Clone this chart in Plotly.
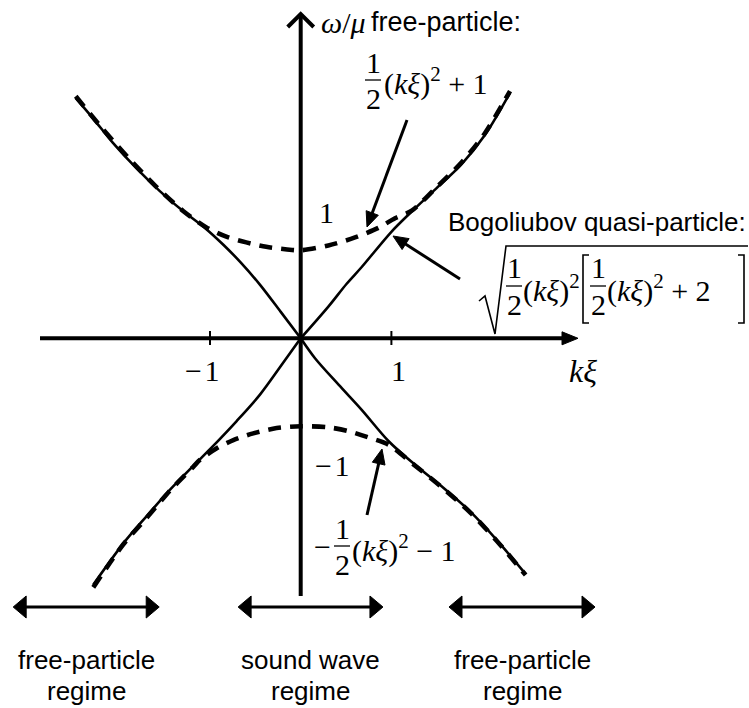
import math
import plotly.graph_objects as go

# Canvas size (px) and the drawing scale of the diagram
W, H = 749, 708
ORIGIN_X, ORIGIN_Y = 300.7, 338.3      # where kξ = 0, ω/μ = 0 sits on the canvas
UNIT_X, UNIT_Y = 90.7, 88.0            # px per unit of kξ and of ω/μ

# Bogoliubov quasi-particle branches (solid), kξ vs ω/μ
bog_up_left_k = [-2.48, -2.29, -2.07, -1.81, -1.55, -1.29, -1.04, -0.85, -0.66, -0.45, -0.22, 0.0]
bog_up_left_w = [2.73, 2.50, 2.22, 1.93, 1.67, 1.44, 1.24, 1.06, 0.86, 0.61, 0.30, 0.0]
bog_up_right_k = [0.0, 0.305, 0.507, 0.673, 1.0, 1.224, 1.481, 1.775, 2.031, 2.308]
bog_up_right_w = [0.0, 0.36, 0.62, 0.81, 1.21, 1.44, 1.69, 1.98, 2.31, 2.79]
bog_lo_left_k = [0.0, -0.229, -0.449, -0.706, -1.0, -1.184, -1.44, -1.698, -1.955, -2.287]
bog_lo_left_w = [0.0, -0.33, -0.64, -0.94, -1.26, -1.45, -1.72, -2.02, -2.33, -2.80]
bog_lo_right_k = [0.0, 0.16, 0.42, 0.67, 0.97, 1.24, 1.54, 1.87, 2.16, 2.48]
bog_lo_right_w = [0.0, -0.23, -0.53, -0.81, -1.17, -1.42, -1.67, -1.97, -2.29, -2.68]

# Free-particle branches (dashed): ±[(kξ)²/2 + 1]
free_up_k = [-2.48, -2.2, -1.9, -1.6, -1.3, -1.04, -0.82, -0.6, -0.38, -0.15, 0.0,
             0.305, 0.599, 0.856, 1.04, 1.224, 1.481, 1.775, 2.031, 2.308]
free_up_w = [2.75, 2.40, 2.05, 1.73, 1.45, 1.26, 1.155, 1.09, 1.04, 1.01, 1.0,
             1.055, 1.146, 1.255, 1.365, 1.45, 1.70, 2.00, 2.33, 2.81]
free_lo_k = [-2.287, -1.955, -1.698, -1.44, -1.184, -1.11, -0.926, -0.743, -0.523, -0.265, 0.0,
             0.29, 0.51, 0.73, 0.97, 1.24, 1.54, 1.87, 2.16, 2.48]
free_lo_w = [-2.83, -2.34, -2.04, -1.73, -1.46, -1.38, -1.25, -1.156, -1.08, -1.02, -1.0,
             -1.01, -1.05, -1.12, -1.21, -1.43, -1.68, -1.98, -2.30, -2.69]

# Axis ticks and labels
x_tick_vals = [-1, 1]
x_tick_text = ["−\u200a1", "1"]
y_label_vals = [1, -1]
y_label_text = ["1", "−\u200a1"]

# Regime bars along the bottom (kξ extent) and their captions
regime_k_from = [-3.17, -0.69, 1.635]
regime_k_to = [-1.56, 0.907, 3.245]
regime_line1 = ["free-particle", "sound wave", "free-particle"]
regime_line2 = ["regime", "regime", "regime"]

SERIF = "Liberation Serif, Times New Roman, serif"
SANS = "Liberation Sans, Arial, Helvetica, sans-serif"
MATH = 30
TEXT = 26


def px(x):
    return x / W


def py(y):
    return 1 - y / H


def k_at(x):
    return (x - ORIGIN_X) / UNIT_X


def w_at(y):
    return (ORIGIN_Y - y) / UNIT_Y


def x_of(k):
    return ORIGIN_X + k * UNIT_X


fig = go.Figure()

solid = dict(color="black", width=2.6)
for ks, ws in [(bog_up_left_k, bog_up_left_w), (bog_up_right_k, bog_up_right_w),
               (bog_lo_left_k, bog_lo_left_w), (bog_lo_right_k, bog_lo_right_w)]:
    fig.add_trace(go.Scatter(x=ks, y=ws, mode="lines", line=dict(shape="spline", smoothing=0.9, **solid),
                             hoverinfo="skip", showlegend=False))

dashed = dict(color="black", width=4.6, dash="13px,9px")
for ks, ws in [(free_up_k, free_up_w), (free_lo_k, free_lo_w)]:
    fig.add_trace(go.Scatter(x=ks, y=ws, mode="lines", line=dict(shape="spline", smoothing=0.8, **dashed),
                             hoverinfo="skip", showlegend=False))

shapes = []
annotations = []


def arrow(tip, tail, width=3, head_len=15, head_half=6.5, both=False, layer="above"):
    """Straight arrow on the canvas from tail to tip with a filled triangular head."""
    (x1, y1), (x0, y0) = tip, tail
    L = math.hypot(x1 - x0, y1 - y0)
    ux, uy = (x1 - x0) / L, (y1 - y0) / L
    nx, ny = -uy, ux
    start = (x0 + ux * head_len * 0.8, y0 + uy * head_len * 0.8) if both else (x0, y0)
    end = (x1 - ux * head_len * 0.8, y1 - uy * head_len * 0.8)
    shapes.append(dict(type="line", xref="paper", yref="paper", x0=px(start[0]), y0=py(start[1]),
                       x1=px(end[0]), y1=py(end[1]), line=dict(color="black", width=width), layer=layer))
    heads = [((x1, y1), (ux, uy))]
    if both:
        heads.append(((x0, y0), (-ux, -uy)))
    for (hx, hy), (dx, dy) in heads:
        bx, by = hx - dx * head_len, hy - dy * head_len
        p1 = (bx + nx * head_half, by + ny * head_half)
        p2 = (bx - nx * head_half, by - ny * head_half)
        shapes.append(dict(type="path", xref="paper", yref="paper",
                           path=f"M{px(hx)},{py(hy)} L{px(p1[0])},{py(p1[1])} L{px(p2[0])},{py(p2[1])} Z",
                           fillcolor="black", line=dict(color="black", width=1), layer=layer))


# Axes
arrow((578, ORIGIN_Y), (40, ORIGIN_Y), width=4, head_len=16, head_half=6.5, layer="below")
shapes.append(dict(type="line", xref="x", yref="y", x0=0, x1=0, y0=w_at(596), y1=w_at(15),
                   line=dict(color="black", width=4), layer="below"))
shapes.append(dict(type="path", xref="paper", yref="paper",
                   path=f"M{px(ORIGIN_X - 13)},{py(27)} L{px(ORIGIN_X)},{py(14)} L{px(ORIGIN_X + 13)},{py(27)}",
                   line=dict(color="black", width=4), layer="below"))

# x ticks and their labels
for v, t in zip(x_tick_vals, x_tick_text):
    shapes.append(dict(type="line", xref="x", yref="y", x0=v, x1=v, y0=w_at(331), y1=w_at(345),
                       line=dict(color="black", width=2), layer="below"))
    annotations.append(dict(x=v + (0.08 if v > 0 else -0.09), y=w_at(370), xref="x", yref="y", text=t,
                            showarrow=False, font=dict(family=SERIF, size=MATH, color="black"),
                            xanchor="center", yanchor="middle"))

# labels for ω/μ = ±1 beside the vertical axis
for v, t in zip(y_label_vals, y_label_text):
    annotations.append(dict(x=k_at(326 if v > 0 else 332), y=v + (0.43 if v > 0 else -0.45), xref="x", yref="y",
                            text=t, showarrow=False, font=dict(family=SERIF, size=MATH, color="black"),
                            xanchor="center", yanchor="middle"))

# axis titles
annotations.append(dict(x=px(583), y=py(371), xref="paper", yref="paper", text="<i>kξ</i>",
                        showarrow=False, font=dict(family=SERIF, size=MATH + 2, color="black"),
                        xanchor="center", yanchor="middle"))
annotations.append(dict(x=px(343), y=py(23), xref="paper", yref="paper", text="<i>ω</i>/<i>μ</i>",
                        showarrow=False, font=dict(family=SERIF, size=MATH, color="black"),
                        xanchor="center", yanchor="middle"))
annotations.append(dict(x=px(369), y=py(22), xref="paper", yref="paper", text="free-particle:",
                        showarrow=False, font=dict(family=SANS, size=TEXT + 1, color="black"),
                        xanchor="left", yanchor="middle"))
annotations.append(dict(x=px(748), y=py(222), xref="paper", yref="paper", text="Bogoliubov quasi-particle:",
                        showarrow=False, font=dict(family=SANS, size=TEXT, color="black"),
                        xanchor="right", yanchor="middle"))


def math_text(x, y, text, anchor="left"):
    annotations.append(dict(x=px(x), y=py(y), xref="paper", yref="paper", text=text, showarrow=False,
                            font=dict(family=SERIF, size=MATH, color="black"),
                            xanchor=anchor, yanchor="middle"))


def half(x, y):
    """Display-style 1/2 centred at (x, y) on the canvas; y is the fraction bar."""
    math_text(x, y - 18, "1", "center")
    math_text(x, y + 18, "2", "center")
    shapes.append(dict(type="line", xref="paper", yref="paper", x0=px(x - 8), x1=px(x + 8),
                       y0=py(y), y1=py(y), line=dict(color="black", width=1.3)))


# ½(kξ)² + 1
half(373, 80)
math_text(382, 82, "(<i>kξ</i>)<sup>2</sup> + 1")

# −½(kξ)² − 1
math_text(322, 546, "−", "center")
half(342, 546)
math_text(350, 548, "(<i>kξ</i>)<sup>2</sup> − 1")

# √{½(kξ)² [½(kξ)² + 2]}
half(514, 286)
math_text(521, 288, "(<i>kξ</i>)<sup>2</sup>")
half(598, 286)
math_text(605, 288, "(<i>kξ</i>)<sup>2</sup> + 2")
shapes.append(dict(type="path", xref="paper", yref="paper",
                   path=f"M{px(479)},{py(301)} L{px(485)},{py(296)} L{px(495)},{py(334)} "
                        f"L{px(506)},{py(246)} L{px(748)},{py(246)}",
                   line=dict(color="black", width=1.6)))
shapes.append(dict(type="path", xref="paper", yref="paper",
                   path=f"M{px(589)},{py(255)} L{px(583)},{py(255)} L{px(583)},{py(323)} L{px(589)},{py(323)}",
                   line=dict(color="black", width=1.6)))
shapes.append(dict(type="path", xref="paper", yref="paper",
                   path=f"M{px(738)},{py(255)} L{px(744)},{py(255)} L{px(744)},{py(323)} L{px(738)},{py(323)}",
                   line=dict(color="black", width=1.6)))

# pointers from the formulas to the curves
for tip, tail in [((367, 227), (407, 120)), ((393, 236), (460, 279)), ((382, 449), (367, 515))]:
    arrow(tip, tail, width=3, head_len=15, head_half=6.5)

# regime bars and captions
regime_y = 607
for k0, k1, t1, t2 in zip(regime_k_from, regime_k_to, regime_line1, regime_line2):
    arrow((x_of(k1), regime_y), (x_of(k0), regime_y), width=3, head_len=13, head_half=11, both=True)
    kc = (k0 + k1) / 2
    annotations.append(dict(x=kc, y=w_at(660), xref="x", yref="y", text=t1, showarrow=False,
                            font=dict(family=SANS, size=TEXT, color="black"),
                            xanchor="center", yanchor="middle"))
    annotations.append(dict(x=kc, y=w_at(691), xref="x", yref="y", text=t2, showarrow=False,
                            font=dict(family=SANS, size=TEXT, color="black"),
                            xanchor="center", yanchor="middle"))

fig.update_layout(
    width=W, height=H,
    margin=dict(l=0, r=0, t=0, b=0),
    paper_bgcolor="white", plot_bgcolor="white",
    xaxis=dict(range=[k_at(0), k_at(W)], visible=False, fixedrange=True),
    yaxis=dict(range=[w_at(H), w_at(0)], visible=False, fixedrange=True),
    shapes=shapes, annotations=annotations,
    showlegend=False,
)

fig.write_html("out.html")
